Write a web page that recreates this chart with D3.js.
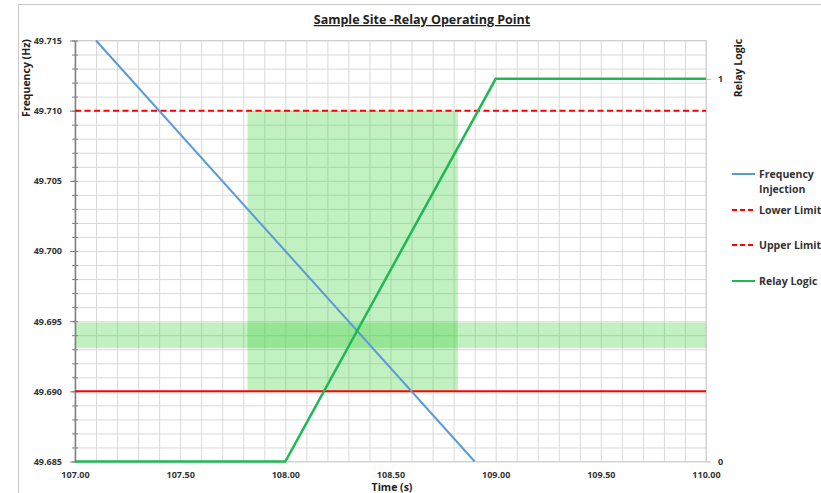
<!DOCTYPE html>
<html lang="en">
  <head>
    <meta charset="utf-8" />
    <title>Sample Site -Relay Operating Point</title>
    <script src="https://d3js.org/d3.v7.min.js"></script>
    <style>
      body { margin: 0; background: #fff; }
      text { font-family: "Open Sans", "Liberation Sans", sans-serif; }
      .tick-label { font-size: 9px; font-weight: bold; fill: #333; }
      .axis-title { font-size: 10.5px; font-weight: bold; fill: #222; }
      .legend text { font-size: 10.5px; font-weight: bold; fill: #333; }
      .grid line { stroke: #d9d9d9; stroke-width: 1; }
    </style>
  </head>
  <body>
    <svg width="821" height="493"></svg>
    <script>
      const margin = { top: 40.5, right: 115, bottom: 31.5, left: 75 };
      const width = 821;
      const height = 493;

      // data
      const freqTime = [107.1, 108.9];
      const freqValue = [49.715, 49.685];
      const relayTime = [107.0, 108.0, 109.0, 110.0];
      const relayValue = [0, 0, 1, 1];
      const lowerLimit = 49.71;
      const upperLimit = 49.69;
      const windowTime = [107.82, 108.82]; // shaded operating window
      const windowFreq = [49.69, 49.71];
      const bandFreq = [49.6931, 49.6949]; // horizontal shaded band
      const xTicks = [107.0, 107.5, 108.0, 108.5, 109.0, 109.5, 110.0];
      const yTicks = [49.685, 49.69, 49.695, 49.7, 49.705, 49.71, 49.715];
      const y2Ticks = [0, 1];
      const legendItems = [
        { name: ["Frequency", "Injection"], colour: "#5b9bd5", dash: null },
        { name: ["Lower Limit"], colour: "#ff0000", dash: "5,3" },
        { name: ["Upper Limit"], colour: "#ff0000", dash: "5,3" },
        { name: ["Relay Logic"], colour: "#1db954", dash: null },
      ];

      const svg = d3.select("svg");

      // chart frame
      svg.append("rect")
        .attr("x", 18.5).attr("y", 4.5)
        .attr("width", 820).attr("height", 500)
        .attr("fill", "none").attr("stroke", "#c8c8c8");

      const x = d3.scaleLinear().domain([107, 110])
        .range([margin.left, width - margin.right]);
      const y = d3.scaleLinear().domain([49.685, 49.715])
        .range([height - margin.bottom, margin.top]);
      const y2 = d3.scaleLinear().domain([0, 1.1])
        .range([height - margin.bottom, margin.top]);

      const minorY = d3.range(0, 31).map((i) => 49.685 + i * 0.001);

      // grid
      svg.append("g").attr("class", "grid")
        .attr("transform", `translate(0,${height - margin.bottom})`)
        .call(d3.axisBottom(x).ticks(30).tickSize(-(height - margin.bottom - margin.top)).tickFormat(""))
        .call((g) => g.select(".domain").remove());
      svg.append("g").attr("class", "grid")
        .attr("transform", `translate(${margin.left},0)`)
        .call(d3.axisLeft(y).tickValues(minorY)
          .tickSize(-(width - margin.right - margin.left)).tickFormat(""))
        .call((g) => g.select(".domain").remove());

      // plot area border
      svg.append("rect")
        .attr("x", margin.left).attr("y", margin.top)
        .attr("width", width - margin.right - margin.left)
        .attr("height", height - margin.bottom - margin.top)
        .attr("fill", "none").attr("stroke", "#d0d0d0");

      // shaded regions
      svg.append("rect")
        .attr("x", x(windowTime[0])).attr("y", y(windowFreq[1]))
        .attr("width", x(windowTime[1]) - x(windowTime[0]))
        .attr("height", y(windowFreq[0]) - y(windowFreq[1]))
        .attr("fill", "rgb(50,205,50)").attr("fill-opacity", 0.3);
      svg.append("rect")
        .attr("x", x(107)).attr("y", y(bandFreq[1]))
        .attr("width", x(110) - x(107))
        .attr("height", y(bandFreq[0]) - y(bandFreq[1]))
        .attr("fill", "rgb(50,205,50)").attr("fill-opacity", 0.3);

      // left axis with minor ticks
      const left = svg.append("g").attr("transform", `translate(${margin.left},0)`);
      left.append("g")
        .call(d3.axisLeft(y).tickValues(minorY).tickSizeInner(3).tickSizeOuter(0).tickFormat(""))
        .call((g) => g.selectAll(".tick line").attr("stroke", "#808080").attr("x2", 3).attr("x1", -3))
        .call((g) => g.select(".domain").attr("stroke", "#808080").attr("stroke-width", 1.5));
      left.append("g")
        .call(d3.axisLeft(y).tickValues(yTicks).tickSizeInner(5).tickSizeOuter(0).tickPadding(8)
          .tickFormat(d3.format(".3f")))
        .call((g) => g.select(".domain").remove())
        .call((g) => g.selectAll(".tick line").attr("stroke", "#808080"))
        .call((g) => g.selectAll(".tick text").attr("class", "tick-label").attr("font-family", null).attr("font-size", null));

      // x axis labels
      svg.append("g")
        .attr("transform", `translate(0,${height - margin.bottom})`)
        .call(d3.axisBottom(x).tickValues(xTicks).tickSize(0).tickPadding(10).tickFormat(d3.format(".2f")))
        .call((g) => g.select(".domain").remove())
        .call((g) => g.selectAll(".tick text").attr("class", "tick-label").attr("font-family", null).attr("font-size", null));

      // right axis
      svg.append("g")
        .attr("transform", `translate(${width - margin.right},0)`)
        .call(d3.axisRight(y2).tickValues(y2Ticks).tickSize(5).tickPadding(7).tickFormat(d3.format("d")))
        .call((g) => g.select(".domain").remove())
        .call((g) => g.selectAll(".tick line").attr("stroke", "#bfbfbf"))
        .call((g) => g.selectAll(".tick text").attr("class", "tick-label").attr("font-family", null).attr("font-size", null));

      // limit lines
      svg.append("line")
        .attr("x1", x(107)).attr("x2", x(110))
        .attr("y1", y(upperLimit)).attr("y2", y(upperLimit))
        .attr("stroke", "#ff0000").attr("stroke-width", 2);
      svg.append("line")
        .attr("x1", x(107)).attr("x2", x(110))
        .attr("y1", y(lowerLimit)).attr("y2", y(lowerLimit))
        .attr("stroke", "#ff0000").attr("stroke-width", 2).attr("stroke-dasharray", "6,3.5");

      // frequency injection
      const freqLine = d3.line().x((d) => x(d[0])).y((d) => y(d[1]));
      svg.append("path")
        .datum(d3.zip(freqTime, freqValue))
        .attr("d", freqLine)
        .attr("fill", "none").attr("stroke", "#5b9bd5").attr("stroke-width", 2);

      // relay logic
      const relayLine = d3.line().x((d) => x(d[0])).y((d) => y2(d[1]));
      svg.append("path")
        .datum(d3.zip(relayTime, relayValue))
        .attr("d", relayLine)
        .attr("fill", "none").attr("stroke", "#1db954").attr("stroke-width", 2.5);

      // titles
      svg.append("text")
        .attr("x", 422).attr("y", 24)
        .attr("text-anchor", "middle")
        .attr("font-size", "12.5px").attr("font-weight", "bold")
        .attr("text-decoration", "underline").attr("fill", "#222")
        .text("Sample Site -Relay Operating Point");
      svg.append("text")
        .attr("class", "axis-title")
        .attr("text-anchor", "middle")
        .attr("transform", "translate(30,78) rotate(-90)")
        .text("Frequency (Hz)");
      svg.append("text")
        .attr("class", "axis-title")
        .attr("text-anchor", "middle")
        .attr("transform", "translate(742,68) rotate(-90)")
        .text("Relay Logic");
      svg.append("text")
        .attr("class", "axis-title")
        .attr("x", 392).attr("y", 491)
        .attr("text-anchor", "middle")
        .text("Time (s)");

      // legend
      const legendY = [174, 210, 245, 281];
      const legend = svg.append("g").attr("class", "legend");
      legendItems.forEach((d, i) => {
        const g = legend.append("g").attr("transform", `translate(732,${legendY[i]})`);
        g.append("line")
          .attr("x1", 0).attr("x2", 23)
          .attr("stroke", d.colour).attr("stroke-width", 2)
          .attr("stroke-dasharray", d.dash);
        d.name.forEach((t, j) => {
          g.append("text").attr("x", 27).attr("y", 4 + j * 15).text(t);
        });
      });
    </script>
  </body>
</html>
